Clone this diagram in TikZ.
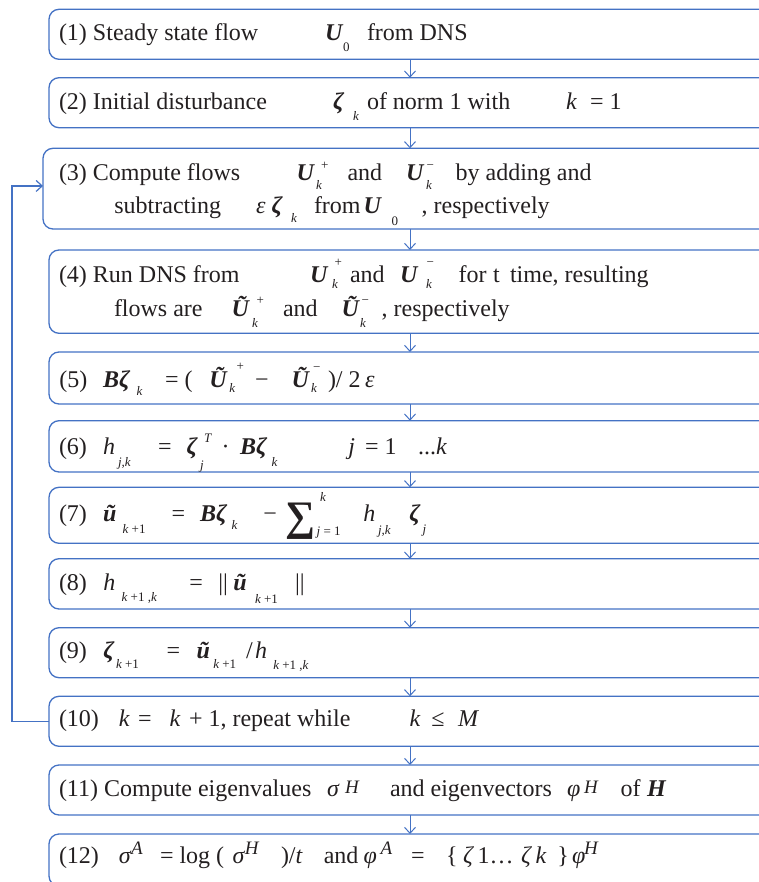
\documentclass[tikz,border=0pt]{standalone}
\usepackage{fontspec}
\setmainfont{Liberation Serif}
\usetikzlibrary{arrows.meta}
\definecolor{bl}{HTML}{4472C4}
\definecolor{ink}{HTML}{231F20}
\newcounter{tn}
\newcommand\T[4][]{\stepcounter{tn}\node[txt,#1] (t\arabic{tn}) at (#2,#3) {#4};}
\newcommand\BI[1]{{\bfseries\itshape #1}}
\tikzset{
  box/.style={draw=bl, line width=1.3pt, rounded corners=10pt, rectangle, inner sep=0pt, outer sep=0pt, minimum width=722pt},
  arr/.style={draw=bl, line width=1pt, -{Straight Barb[length=6pt,width=11pt]}},
  txt/.style={anchor=base west, inner sep=0pt, outer sep=0pt, text=ink, font=\fontsize{24}{28}\selectfont},
  sm/.style={font=\fontsize{13}{14}\selectfont},
  md/.style={font=\fontsize{19}{22}\selectfont\itshape},
  big/.style={font=\fontsize{42}{44}\selectfont\bfseries}
}
\begin{document}
\begin{tikzpicture}[x=1pt,y=-1pt]
\useasboundingbox (0,0) rectangle (759,882);
\clip (0,0) rectangle (759,882);
% boxes
\node[box, minimum height=50pt] (b1) at (410,34.3) {};
\node[box, minimum height=50pt] (b2) at (410,102.7) {};
\node[box, minimum height=80.7pt, minimum width=734pt] (b3) at (410,188.65) {};
\node[box, minimum height=83.3pt] (b4) at (410,291.65) {};
\node[box, minimum height=52pt] (b5) at (410,378) {};
\node[box, minimum height=51.3pt] (b6) at (410,446.35) {};
\node[box, minimum height=56pt] (b7) at (410,515.3) {};
\node[box, minimum height=50.3pt] (b8) at (410,583.85) {};
\node[box, minimum height=50pt] (b9) at (410,652.7) {};
\node[box, minimum height=50pt] (b10) at (410,721.3) {};
\node[box, minimum height=50pt] (b11) at (410,790) {};
\node[box, minimum height=52pt] (b12) at (410,860) {};
% arrows
\draw[arr] (b1.south) -- (b2.north);
\draw[arr] (b2.south) -- (b3.north);
\draw[arr] (b3.south) -- (b4.north);
\draw[arr] (b4.south) -- (b5.north);
\draw[arr] (b5.south) -- (b6.north);
\draw[arr] (b6.south) -- (b7.north);
\draw[arr] (b7.south) -- (b8.north);
\draw[arr] (b8.south) -- (b9.north);
\draw[arr] (b9.south) -- (b10.north);
\draw[arr] (b10.south) -- (b11.north);
\draw[arr] (b11.south) -- (b12.north);
\draw[arr, line width=1.2pt] (b10.west) -- ++(-37,0) |- ([yshift=2.7pt]b3.west);
% line 1
\T{59}{41}{(1) Steady state flow}
\T{325}{41}{\BI{U}}
\T[sm]{343}{51.5}{0}
\T{367}{41}{from DNS}
% line 2
\T{59}{110}{(2) Initial disturbance}
\T{333}{110}{\BI{ζ}}
\T[sm]{353}{120.5}{\itshape k}
\T{367}{110}{of norm 1 with}
\T{566}{110}{\itshape k}
\T{590}{110}{= 1}
% line 3
\T{59}{181}{(3) Compute flows}
\T{296.6}{181}{\BI{U}}
\T[sm]{321}{170}{+}
\T[sm]{316}{190}{\itshape k}
\T{347.5}{181}{and}
\T{406}{181}{\BI{U}}
\T[sm]{426.6}{170}{−}
\T[sm]{426}{190}{\itshape k}
\T{455.6}{181}{by adding and}
\T{114.4}{214}{subtracting}
\T{256}{214}{\itshape ε}
\T{271.5}{214}{\BI{ζ}}
\T[sm]{291}{223}{\itshape k}
\T{314}{214}{from}
\T{363.6}{214}{\BI{U}}
\T[sm]{391.7}{226}{0}
\T{421.7}{214}{, respectively}
% line 4
\T{59}{283}{(4) Run DNS from}
\T{310}{283}{\BI{U}}
\T[sm]{334.5}{267}{+}
\T[sm]{332}{288}{\itshape k}
\T{350}{283}{and}
\T{400}{283}{\BI{U}}
\T[sm]{426.6}{267}{−}
\T[sm]{426}{288}{\itshape k}
\T{458.6}{283}{for}
\T{493}{283}{t}
\T{510}{283}{time, resulting}
\T{114}{316}{flows are}
\T{231.7}{316}{\BI{Ũ}}
\T[sm]{256.7}{304}{+}
\T[sm]{252}{327}{\itshape k}
\T{283}{316}{and}
\T{341.7}{316}{\BI{Ũ}}
\T[sm]{361.7}{304}{−}
\T[sm]{360}{327}{\itshape k}
\T{381.7}{316}{, respectively}
% line 5
\T{59.3}{387.3}{(5)}
\T{103}{387.3}{\BI{Bζ}}
\T[sm]{136.7}{395}{\itshape k}
\T{165}{387.3}{= (}
\T{209.3}{387.3}{\BI{Ũ}}
\T[sm]{236.7}{370.5}{+}
\T[sm]{229.3}{392}{\itshape k}
\T{255}{387.3}{−}
\T{291.7}{387.3}{\BI{Ũ}}
\T[sm]{313}{371}{−}
\T[sm]{311}{392}{\itshape k}
\T{328}{387.3}{)/ 2}
\T{365}{387.3}{\itshape ε}
% line 6
\T{59}{454}{(6)}
\T{103}{454}{\itshape h}
\T[sm]{118}{466}{\itshape j,k}
\T{158}{454}{=}
\T{186.7}{454}{\BI{ζ}}
\T[sm]{204}{442}{\itshape T}
\T[sm]{200}{469}{\itshape j}
\T{221.7}{454}{·}
\T{240}{454}{\BI{Bζ}}
\T[sm]{271.7}{466.7}{\itshape k}
\T{348.3}{454}{\itshape j}
\T{365}{454}{= 1}
\T{418}{454}{...}
\T{436}{454}{\itshape k}
% line 7
\T{59}{521.7}{(7)}
\T{103}{521.7}{\BI{ũ}}
\T[sm]{122.7}{533}{{\itshape k} +1}
\T{171.7}{521.7}{=}
\T{200}{521.7}{\BI{Bζ}}
\T[sm]{231.7}{529}{\itshape k}
\T{263.3}{521.7}{−}
\T[big]{285}{530}{∑}
\T[sm]{320}{501}{\itshape k}
\T[sm]{316.7}{535}{{\itshape j} = 1}
\T{363.3}{521.7}{\itshape h}
\T[sm]{378}{534}{\itshape j,k}
\T{409.3}{521.7}{\BI{ζ}}
\T[sm]{422.7}{533}{\itshape j}
% line 8
\T{59}{590}{(8)}
\T{103.3}{590}{\itshape h}
\T[sm]{121.7}{601}{{\itshape k} +1 ,{\itshape k}}
\T{189.3}{590}{=}
\T{218.3}{590}{||}
\T{233.3}{590}{\BI{ũ}}
\T[sm]{255}{603}{{\itshape k} +1}
\T{295}{590}{||}
% line 9
\T{59}{658.3}{(9)}
\T{103.3}{658.3}{\BI{ζ}}
\T[sm]{116}{668}{{\itshape k} +1}
\T{166.7}{658.3}{=}
\T{196.7}{658.3}{\BI{ũ}}
\T[sm]{213.3}{668}{{\itshape k} +1}
\T{246}{658.3}{/}
\T{255}{658.3}{\itshape h}
\T[sm]{273.3}{669}{{\itshape k} +1 ,{\itshape k}}
% line 10
\T{59}{726.7}{(10)}
\T{118.8}{726.7}{\itshape k}
\T{138}{726.7}{=}
\T{169.7}{726.7}{\itshape k}
\T{189}{726.7}{+ 1, repeat while}
\T{409.6}{726.7}{\itshape k}
\T{431.4}{726.7}{≤}
\T{458}{726.7}{\itshape M}
% line 11
\T{59}{796.7}{(11) Compute eigenvalues}
\T{327}{796.7}{\itshape σ}
\T[md]{345}{793}{H}
\T{390}{796.7}{and eigenvectors}
\T{567}{796.7}{\itshape φ}
\T[md]{584}{793}{H}
\T{620.5}{796.7}{of}
\T{647}{796.7}{\BI{H}}
% line 12
\T{59}{863.3}{(12)}
\T{118.8}{863.3}{\itshape σ}
\T[md]{131}{854}{A}
\T{160}{863.3}{= log (}
\T{232.7}{863.3}{\itshape σ}
\T[md]{244.8}{854}{H}
\T{281}{863.3}{)/\itshape t}
\T{323.8}{863.3}{and}
\T{363.6}{863.3}{\itshape φ}
\T[md]{380.5}{854}{A}
\T{411}{863.3}{=}
\T{446}{863.3}{\{}
\T{463}{863.3}{\itshape ζ}
\T{477.5}{863.3}{1}
\T{489.6}{863.3}{…}
\T{521}{863.3}{\itshape ζ}
\T{535.6}{863.3}{\itshape k}
\T{557.4}{863.3}{\}}
\T{572}{863.3}{\itshape φ}
\T[md]{584}{854}{H}
\end{tikzpicture}
\end{document}
